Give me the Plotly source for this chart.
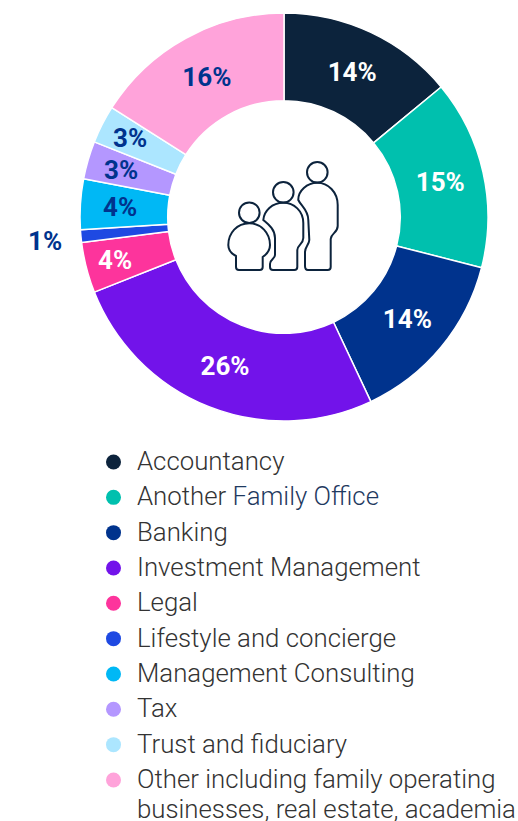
import math
import plotly.graph_objects as go

categories = ["Accountancy", "Another <span style='color:#1f3a5f'>Family Office</span>", "Banking",
              "Investment Management", "Legal", "Lifestyle and concierge", "Management Consulting",
              "Tax", "Trust and fiduciary",
              "Other including family operating<br>businesses, real estate, academia"]
values = [14, 15, 14, 26, 4, 1, 4, 3, 3, 16]
colors = ["#0c233c", "#00c0ae", "#00338d", "#7213ea", "#fd349c",
          "#1e49e2", "#00b8f5", "#b497ff", "#ace6ff", "#ffa3da"]
label_colors = ["white", "white", "white", "white", "white",
                "#00338d", "#00338d", "#00338d", "#00338d", "#00338d"]
label_pos = ["inside"] * 4 + ["none"] * 5 + ["inside"]
# slices too thin for plotly's own inside placement: distance of the label from the centre
small_label_radius = {4: 174, 6: 164, 7: 170, 8: 173}

W, H = 518, 821
CX, CY = 284, 217
NAVY = "#0c233c"
LABEL_SIZE = 26

fig = go.Figure()

fig.add_trace(go.Pie(
    values=values,
    labels=categories,
    sort=False,
    direction="clockwise",
    rotation=0,
    hole=0.57,
    domain=dict(x=[80 / W, 488 / W], y=[1 - 421 / H, 1 - 13 / H]),
    marker=dict(colors=colors, line=dict(color="white", width=1.5)),
    textinfo="percent",
    textposition=label_pos,
    insidetextorientation="horizontal",
    textfont=dict(family="Roboto", size=LABEL_SIZE, color=label_colors, weight=700),
    showlegend=False,
))

# round key markers, one row per category
row_y = [462 + 35.33 * i for i in range(len(categories))]
fig.add_trace(go.Scatter(
    x=[113.5] * len(categories), y=row_y, mode="markers",
    marker=dict(color=colors, size=15), showlegend=False, hoverinfo="skip",
))

# key text, wrapped lines are tighter than plotly's own <br> spacing
key_text = []
for name, y in zip(categories, row_y):
    for j, line in enumerate(name.split("<br>")):
        key_text.append(dict(xref="x", yref="y", x=137, y=y - 1 + j * 30, text=line, showarrow=False,
                             xanchor="left", yanchor="middle", borderpad=0, borderwidth=0,
                             font=dict(family="Roboto", size=25.8, color="#333333", weight=300)))

# labels placed by hand: the thin slices, and the 1% which sits outside the ring
slice_labels = []
total = sum(values)
for i, r in small_label_radius.items():
    theta = 2 * math.pi * (sum(values[:i]) + values[i] / 2) / total
    slice_labels.append(dict(xref="x", yref="y", x=CX + r * math.sin(theta), y=CY - r * math.cos(theta),
                             text=f"{values[i]}%", showarrow=False,
                             font=dict(family="Roboto", size=LABEL_SIZE, color=label_colors[i], weight=700)))
slice_labels.append(dict(xref="x", yref="y", x=45, y=241, text=f"{values[5]}%", showarrow=False,
                         font=dict(family="Roboto", size=LABEL_SIZE, color=label_colors[5], weight=700)))

# family icon in the hole, coordinates are page pixels
def head(cx, cy, r=10.3):
    return dict(type="circle", xref="x", yref="y", x0=cx - r, x1=cx + r, y0=cy - r, y1=cy + r,
                line=dict(color=NAVY, width=2))

def body(path):
    return dict(type="path", xref="x", yref="y", path=path, line=dict(color=NAVY, width=2))

icon = [
    head(317.3, 172.3), head(283.3, 192.3), head(249.3, 212.7),
    body("M317.3,182.7 C307,182.7 298,191 298.3,200 C301,206 308.3,210 308.3,220 L309.3,240 "
         "C309,245 305,247 305,252 L305,266 Q305,270 308,270 L327.7,270 Q330.7,270 330.7,267 "
         "L330.7,239 C331,233 337.7,233 337.7,226 L337.7,205 C337.7,192 328,182.7 317.3,182.7 Z"),
    body("M283.3,202.7 C272,202.7 264,211 263.3,220 C268,224 275,229 275,238 L275,255 "
         "C275,259 270,259 270,264 L270,267 Q270,270 273,270 L294.3,270 Q297.3,270 297.3,267 "
         "L297.3,250 C297.3,245 303.3,244 303.3,238 L303.3,223 C303.3,211 294,202.7 283.3,202.7 Z"),
    body("M249.3,223.3 C237,223.3 228.3,233 228.3,245 C228.3,251 232,254 236,256 L236,267 "
         "Q236,270 239,270 L259.7,270 Q262.7,270 262.7,267 L262.7,257 C267,254 270,251 270,245 "
         "C270,233 261,223.3 249.3,223.3 Z"),
]

fig.update_layout(
    width=W, height=H,
    margin=dict(l=0, r=0, t=0, b=0),
    paper_bgcolor="white",
    plot_bgcolor="white",
    showlegend=False,
    uniformtext=dict(mode="show", minsize=LABEL_SIZE),
    xaxis=dict(range=[0, W], visible=False, fixedrange=True),
    yaxis=dict(range=[H, 0], visible=False, fixedrange=True),
    shapes=icon,
    annotations=key_text + slice_labels,
)

# the page's default body margin would push the figure 8px in
fig.write_html("out.html", config={"displayModeBar": False},
               post_script="document.body.style.margin='0';")
